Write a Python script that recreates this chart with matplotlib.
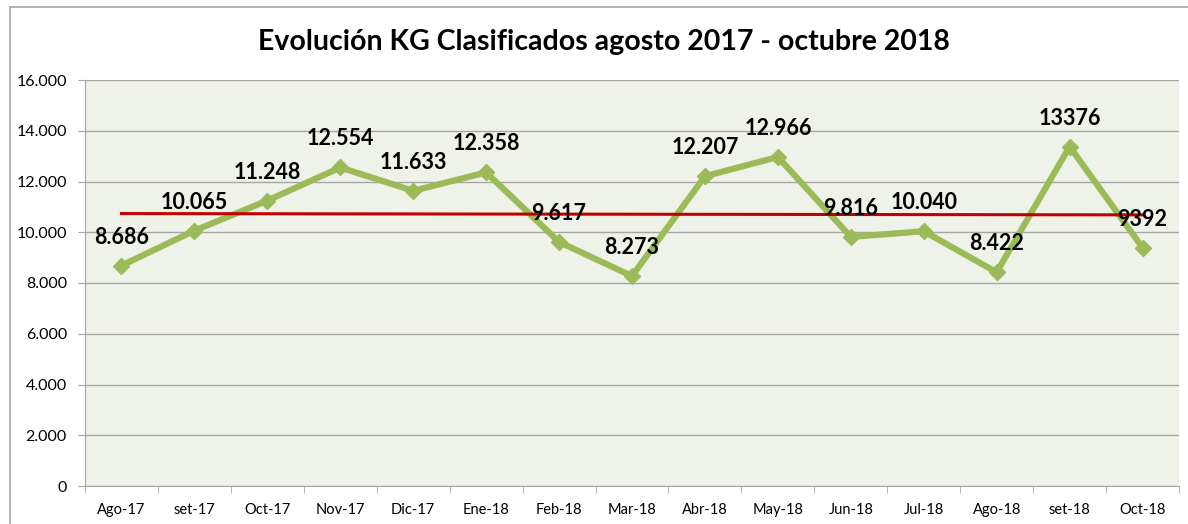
import matplotlib.pyplot as plt
import matplotlib.patches as patches
import numpy as np

meses = ['Ago-17', 'set-17', 'Oct-17', 'Nov-17', 'Dic-17', 'Ene-18', 'Feb-18', 'Mar-18',
         'Abr-18', 'May-18', 'Jun-18', 'Jul-18', 'Ago-18', 'set-18', 'Oct-18']
kg = [8686, 10065, 11248, 12554, 11633, 12358, 9617, 8273,
      12207, 12966, 9816, 10040, 8422, 13376, 9392]
etiquetas = ['8.686', '10.065', '11.248', '12.554', '11.633', '12.358', '9.617', '8.273',
             '12.207', '12.966', '9.816', '10.040', '8.422', '13376', '9392']

plt.rcParams['font.family'] = ['Lato', 'DejaVu Sans']

W, H = 1188, 524
fig = plt.figure(figsize=(W / 100, H / 100), dpi=100)
# borde del área del gráfico
fig.patches.append(patches.Rectangle((10 / W, -0.05), 1.2, 1 - 7 / H + 0.05, transform=fig.transFigure,
                                     fill=False, edgecolor='#a6a6a6', linewidth=1.2))

ax = fig.add_axes([85 / W, 1 - 486 / H, (1179 - 85) / W, (486 - 80) / H])
ax.set_facecolor('#eff2e8')

x = np.arange(len(kg))
ax.plot(x, kg, color='#9bbb59', linewidth=4.5, marker='D', markersize=8,
        markerfacecolor='#9bbb59', markeredgecolor='#9bbb59', zorder=3)

# linea de tendencia
p = np.polyfit(x, kg, 1)
ax.plot([x[0], x[-1]], np.polyval(p, [x[0], x[-1]]), color='#c00000', linewidth=2.2, zorder=4)

for xi, yi, t in zip(x, kg, etiquetas):
    ax.annotate(t, (xi, yi), xytext=(0, 13), textcoords='offset points', ha='center', va='bottom',
                fontsize=15.5, fontweight='bold', color='black', zorder=5)

ax.set_xlim(-0.5, len(kg) - 0.5)
ax.set_ylim(0, 16000)
ax.set_yticks(np.arange(0, 16001, 2000))
ax.set_yticklabels(['0'] + [f'{v // 1000}.000' for v in range(2000, 16001, 2000)])
ax.set_xticks(x)
ax.set_xticklabels(meses)
ax.set_xticks(np.arange(-0.5, len(kg), 1), minor=True)
ax.tick_params(axis='x', which='major', length=0, pad=12, labelsize=10.5)
ax.tick_params(axis='x', which='minor', length=5, color='#a6a6a6', direction='out')
ax.tick_params(axis='y', length=5, color='#a6a6a6', labelsize=11.5, pad=8)
ax.grid(axis='y', color='#a6a6a6', linewidth=1)
ax.set_axisbelow(True)
for s in ['top', 'right']:
    ax.spines[s].set_visible(False)
ax.spines['left'].set_color('#a6a6a6')
ax.spines['bottom'].set_color('#a6a6a6')

fig.text(604 / W, 1 - 42 / H, 'Evolución KG Clasificados agosto 2017 - octubre 2018', ha='center', va='center',
         fontsize=20.5, fontweight='bold')

fig.savefig('out.png', dpi=100)
